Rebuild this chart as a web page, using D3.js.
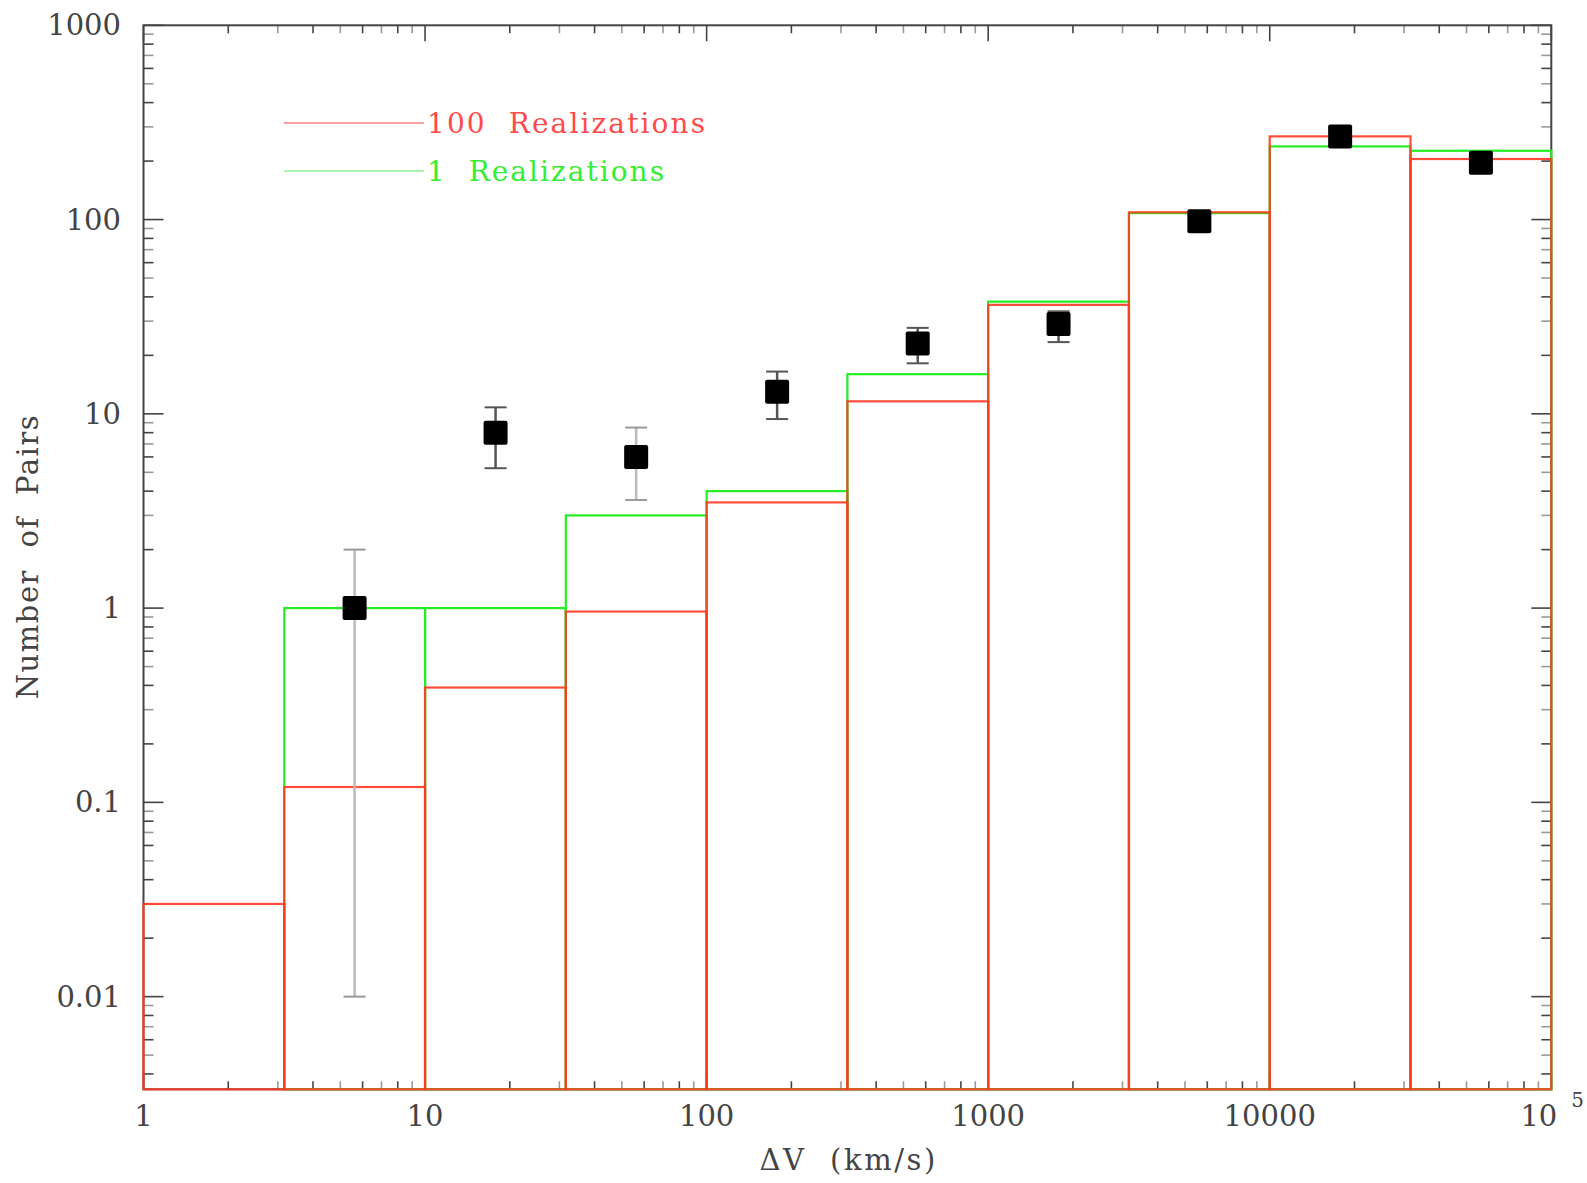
<!DOCTYPE html>
<html>
<head>
<meta charset="utf-8">
<script src="https://cdn.jsdelivr.net/npm/d3@7"></script>
<style>
  body { margin: 0; background: #fff; }
  text { font-family: "DejaVu Serif", serif; fill: #444; }
</style>
</head>
<body>
<script>
// histogram bins in Delta V (km/s), half-decade wide
const binEdges = [1, 3.162, 10, 31.62, 100, 316.2, 1000, 3162, 10000, 31623, 100000];
const red100 = [0.03, 0.12, 0.39, 0.96, 3.5, 11.6, 36.4, 109, 268, 205];
const green1 = [0, 1, 1, 3, 4, 16, 37.8, 108, 238, 226];

// observed pairs with error bars
const obsV  = [5.62, 17.8, 56.2, 178, 562, 1778, 5623, 17783, 56234];
const obsN  = [1, 8, 6, 13, 23, 29, 98, 268, 196];
const obsLo = [0.01, 5.25, 3.6, 9.4, 18.2, 23.4, 88, 255, 185];
const obsHi = [2, 10.8, 8.5, 16.5, 27.7, 33.7, 110, 282, 208];

const yTickVals = [0.01, 0.1, 1, 10, 100, 1000];
const yTickLabels = ["0.01", "0.1", "1", "10", "100", "1000"];
const xTickVals = [1, 10, 100, 1000, 10000];
const xTickLabels = ["1", "10", "100", "1000", "10000"];

const legendNames = ["100  Realizations", "1  Realizations"];

const W = 1587, H = 1183;
const pL = 143.5, pR = 1551.3, pT = 25.3, pB = 1089.3;

const svg = d3.select("body").append("svg")
  .attr("width", W).attr("height", H);

const x = d3.scaleLog().domain([1, 1e5]).range([pL, pR]);
const y = d3.scaleLog().domain([Math.pow(10, -2.477), 1000]).range([pB, pT]);

// minor tick values
const xMinor = [];
for (let d = 1; d < 1e5; d *= 10) for (let k = 2; k <= 9; k++) xMinor.push(d * k);
const yMinor = [];
for (let d = 0.001; d < 1000; d *= 10) for (let k = 2; k <= 9; k++) {
  const v = d * k;
  if (v >= y.domain()[0]) yMinor.push(v);
}

const axisColor = "#444";

// ticks on all four sides, pointing inward
const ticks = svg.append("g").attr("stroke", axisColor).attr("stroke-width", 1.6);
ticks.selectAll(".yl").data(yTickVals).enter().append("line")
  .attr("x1", pL).attr("x2", pL + 20).attr("y1", d => y(d)).attr("y2", d => y(d));
ticks.selectAll(".yr").data(yTickVals).enter().append("line")
  .attr("x1", pR).attr("x2", pR - 20).attr("y1", d => y(d)).attr("y2", d => y(d));
ticks.selectAll(".ylm").data(yMinor).enter().append("line")
  .attr("x1", pL).attr("x2", pL + 10).attr("y1", d => y(d)).attr("y2", d => y(d))
  .attr("stroke", (d, i) => i % 2 ? "#999" : axisColor);
ticks.selectAll(".yrm").data(yMinor).enter().append("line")
  .attr("x1", pR).attr("x2", pR - 10).attr("y1", d => y(d)).attr("y2", d => y(d))
  .attr("stroke", (d, i) => i % 2 ? "#999" : axisColor);
ticks.selectAll(".xb").data(xTickVals.concat([1e5])).enter().append("line")
  .attr("x1", d => x(d)).attr("x2", d => x(d)).attr("y1", pB).attr("y2", pB - 16);
ticks.selectAll(".xt").data(xTickVals.concat([1e5])).enter().append("line")
  .attr("x1", d => x(d)).attr("x2", d => x(d)).attr("y1", pT).attr("y2", pT + 16);
ticks.selectAll(".xbm").data(xMinor).enter().append("line")
  .attr("x1", d => x(d)).attr("x2", d => x(d)).attr("y1", pB).attr("y2", pB - 8)
  .attr("stroke", (d, i) => i % 2 ? "#999" : axisColor);
ticks.selectAll(".xtm").data(xMinor).enter().append("line")
  .attr("x1", d => x(d)).attr("x2", d => x(d)).attr("y1", pT).attr("y2", pT + 8)
  .attr("stroke", (d, i) => i % 2 ? "#999" : axisColor);

// frame
svg.append("rect")
  .attr("x", pL).attr("y", pT)
  .attr("width", pR - pL).attr("height", pB - pT)
  .attr("fill", "none").attr("stroke", axisColor).attr("stroke-width", 2);

// tick labels
svg.selectAll(".ylab").data(yTickVals).enter().append("text")
  .attr("x", 121).attr("y", d => y(d))
  .attr("text-anchor", "end").attr("dominant-baseline", "central")
  .attr("font-size", 29)
  .text((d, i) => yTickLabels[i]);

svg.selectAll(".xlab").data(xTickVals).enter().append("text")
  .attr("x", d => x(d)).attr("y", 1116)
  .attr("text-anchor", "middle").attr("dominant-baseline", "central")
  .attr("font-size", 29)
  .text((d, i) => xTickLabels[i]);

// 10^5 at the right end
svg.append("text")
  .attr("x", x(1e5) + 6).attr("y", 1116)
  .attr("text-anchor", "end").attr("dominant-baseline", "central")
  .attr("font-size", 29).text("10");
svg.append("text")
  .attr("x", x(1e5) + 20).attr("y", 1100)
  .attr("dominant-baseline", "central")
  .attr("font-size", 20).text("5");

// axis titles
svg.append("text")
  .attr("x", (pL + pR) / 2).attr("y", 1160)
  .attr("text-anchor", "middle").attr("dominant-baseline", "central")
  .attr("font-size", 29).style("white-space", "pre")
  .attr("textLength", 176).attr("lengthAdjust", "spacing")
  .text("ΔV  (km/s)");

svg.append("text")
  .attr("transform", `translate(28,${(pT + pB) / 2}) rotate(-90)`)
  .attr("text-anchor", "middle").attr("dominant-baseline", "central")
  .attr("font-size", 29).style("white-space", "pre")
  .attr("textLength", 284).attr("lengthAdjust", "spacing")
  .text("Number  of  Pairs");

// histograms: each bin as an outlined box down to the bottom of the plot
function drawHist(vals, color, opacity) {
  const bins = vals.map((v, i) => ({ v: v, x0: binEdges[i], x1: binEdges[i + 1] }))
    .filter(b => b.v > 0);
  svg.append("g").selectAll("rect").data(bins).enter().append("rect")
    .attr("x", d => x(d.x0))
    .attr("y", d => y(d.v))
    .attr("width", d => x(d.x1) - x(d.x0))
    .attr("height", d => pB - y(d.v))
    .attr("fill", "none")
    .attr("stroke", color)
    .attr("stroke-width", 2.2)
    .attr("stroke-opacity", opacity);
}
drawHist(green1, "#22ee22", 1);
drawHist(red100, "#ff3a22", 0.9);

// observed points with error bars
const lightBars = [0, 2];
const pts = obsV.map((v, i) => ({ v: v, n: obsN[i], lo: obsLo[i], hi: obsHi[i], i: i }));
const pg = svg.append("g");
pg.selectAll(".eb").data(pts).enter().append("line")
  .attr("x1", d => x(d.v)).attr("x2", d => x(d.v))
  .attr("y1", d => y(d.lo)).attr("y2", d => y(d.hi))
  .attr("stroke", d => lightBars.includes(d.i) ? "#bbb" : "#555")
  .attr("stroke-width", 2.5);
["lo", "hi"].forEach(k => {
  pg.selectAll(".cap" + k).data(pts).enter().append("line")
    .attr("x1", d => x(d.v) - 11).attr("x2", d => x(d.v) + 11)
    .attr("y1", d => y(d[k])).attr("y2", d => y(d[k]))
    .attr("stroke", d => lightBars.includes(d.i) ? "#999" : "#555")
    .attr("stroke-width", 2);
});
pg.selectAll(".sq").data(pts).enter().append("rect")
  .attr("x", d => x(d.v) - 12).attr("y", d => y(d.n) - 12)
  .attr("width", 24).attr("height", 24)
  .attr("rx", 2)
  .attr("fill", "#000");

// legend
const legColors = ["#ff4a4a", "#33ee33"];
const legLine = ["#ff8080", "#90f090"];
const legLen = [278, 237];
const lg = svg.append("g");
legendNames.forEach((name, i) => {
  const ly = 123 + i * 48;
  lg.append("line")
    .attr("x1", 284).attr("x2", 424).attr("y1", ly).attr("y2", ly)
    .attr("stroke", legLine[i]).attr("stroke-width", 1.6);
  lg.append("text")
    .attr("x", 427).attr("y", ly)
    .attr("dominant-baseline", "central")
    .attr("font-size", 28).style("white-space", "pre")
    .attr("textLength", legLen[i]).attr("lengthAdjust", "spacing")
    .style("fill", legColors[i])
    .text(name);
});
</script>
</body>
</html>
